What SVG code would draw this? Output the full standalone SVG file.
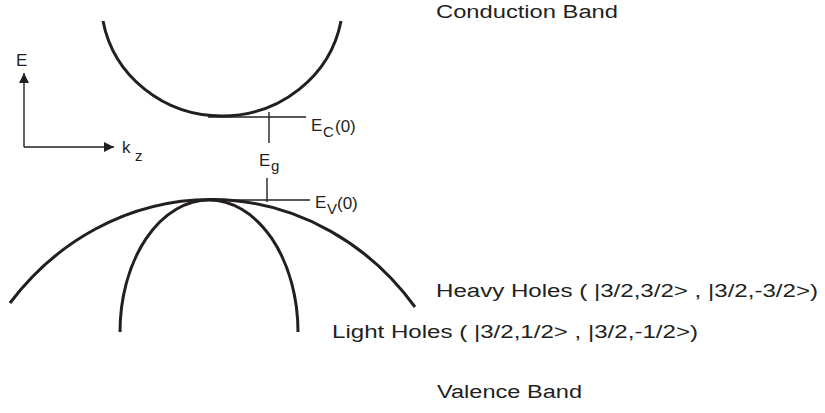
<svg xmlns="http://www.w3.org/2000/svg" width="825" height="413" viewBox="0 0 825 413">
<defs>
<marker id="arr" viewBox="0 0 10 10" refX="10" refY="5" markerWidth="10" markerHeight="10" markerUnits="userSpaceOnUse" orient="auto">
<path d="M0,0 L10,5 L0,10 z" fill="#231f20"/>
</marker>
</defs>
<style>
.band{fill:none;stroke:#231f20;stroke-width:3}
.ln{fill:none;stroke:#231f20;stroke-width:1.4}
text{font-family:"Liberation Sans",Arial,sans-serif;font-size:17px;fill:#231f20}
.sub{font-size:15px}
.big{font-size:18px}
</style>
<rect width="825" height="413" fill="#fff"/>
<g id="conduction-band">
<path class="band" d="M103,21 A121,116 0 0 0 341,21"/>
</g>
<g id="heavy-holes">
<path class="band" d="M10,303 A260,283 0 0 1 415,307"/>
</g>
<g id="light-holes">
<path class="band" d="M120,332 A89,132 0 0 1 298,332"/>
</g>
<g id="connectors">
<line class="ln" x1="24" y1="147" x2="24" y2="73" marker-end="url(#arr)"/>
<line class="ln" x1="24" y1="147" x2="114" y2="147" marker-end="url(#arr)"/>
<line class="ln" x1="208" y1="117" x2="306" y2="117"/>
<line class="ln" x1="269" y1="112" x2="269" y2="143"/>
<line class="ln" x1="267" y1="178" x2="267" y2="202"/>
<line class="ln" x1="208" y1="200" x2="310" y2="200"/>
</g>
<g id="axis-labels">
<text x="16" y="66">E</text>
<text x="122" y="153">k</text>
<text class="sub" x="135" y="161">z</text>
</g>
<g id="ec-label">
<text x="311" y="131">E</text>
<text class="sub" x="323" y="137">C</text>
<text x="335" y="132">(0)</text>
</g>
<g id="eg-label">
<text x="259" y="166">E</text>
<text class="sub" x="271" y="171">g</text>
</g>
<g id="ev-label">
<text x="315" y="208">E</text>
<text class="sub" x="327" y="214">V</text>
<text x="337" y="209">(0)</text>
</g>
<g id="texts">
<text class="big" x="436" y="18" textLength="182" lengthAdjust="spacingAndGlyphs">Conduction Band</text>
<text class="big" x="436" y="297" textLength="382" lengthAdjust="spacingAndGlyphs">Heavy Holes ( |3/2,3/2&gt; , |3/2,-3/2&gt;)</text>
<text class="big" x="332" y="338" textLength="366" lengthAdjust="spacingAndGlyphs">Light Holes ( |3/2,1/2&gt; , |3/2,-1/2&gt;)</text>
<text class="big" x="437" y="398" textLength="145" lengthAdjust="spacingAndGlyphs">Valence Band</text>
</g>
</svg>
